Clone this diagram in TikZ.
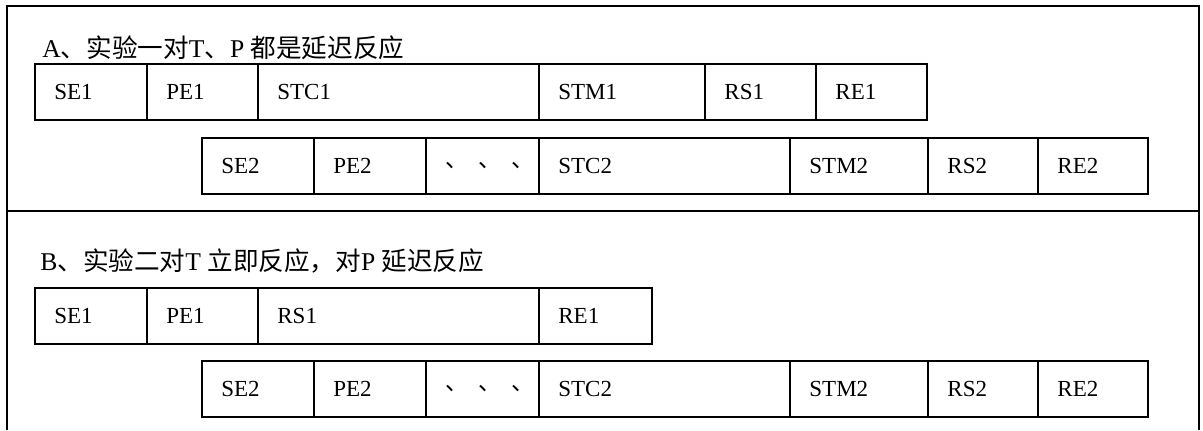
\documentclass[tikz,border=0pt]{standalone}
\usepackage{fontspec}
\setmainfont{Liberation Serif}
\newfontfamily\cjk{Noto Sans CJK SC}
\tikzset{
  cell/.style={draw, line width=0.9pt, anchor=north west, minimum height=28pt, inner sep=0pt},
  lbl/.style={anchor=west, xshift=10pt, inner sep=0pt, font=\fontsize{11.5}{13}\selectfont},
  ttl/.style={anchor=west, inner sep=0pt, font=\fontsize{12.8}{14}\selectfont}
}
\begin{document}
\begin{tikzpicture}[x=0.5pt,y=-0.5pt]
\useasboundingbox (0,0) rectangle (1203,430);
% frame
\coordinate (fbl) at (7,430);
\coordinate (ftl) at (7,6);
\coordinate (ftr) at (1199,6);
\coordinate (fbr) at (1199,430);
\coordinate (ml) at (7,211);
\coordinate (mr) at (1199,211);
\draw [line width=1pt] (fbl) -- (ftl) -- (ftr) -- (fbr);
\draw [line width=1pt] (ml) -- (mr);
% titles
\node [ttl] (titleA) at (42,48) {A{\cjk 、实验一对}T{\cjk 、}P {\cjk 都是延迟反应}};
\node [ttl] (titleB) at (40,261) {B{\cjk 、实验二对}T {\cjk 立即反应，对}P {\cjk 延迟反应}};
% first rows
\foreach \l/\r/\t/\n in {34/146/SE1/a1-se, 146/257/PE1/a1-pe, 257/538/STC1/a1-stc,
  538/704/STM1/a1-stm, 704/815/RS1/a1-rs, 815/926/RE1/a1-re}
  {\pgfmathsetmacro\w{(\r-\l)*0.5}
   \node [cell, minimum width=\w pt, label={[lbl]west:\t}] (\n) at (\l,63) {};}
\foreach \l/\r/\t/\n in {34/146/SE1/b1-se, 146/257/PE1/b1-pe, 257/538/RS1/b1-rs,
  538/651/RE1/b1-re}
  {\pgfmathsetmacro\w{(\r-\l)*0.5}
   \node [cell, minimum width=\w pt, label={[lbl]west:\t}] (\n) at (\l,287) {};}
% second rows, same in A and B
\foreach \row/\top in {a2/137, b2/360}
  \foreach \l/\r/\t/\n in {201/313/SE2/se, 313/425/PE2/pe,
    425/538/{{\cjk 、\hspace{5pt}、\hspace{5pt}、}}/dots, 538/789/STC2/stc,
    789/927/STM2/stm, 927/1037/RS2/rs, 1037/1147/RE2/re}
    {\pgfmathsetmacro\w{(\r-\l)*0.5}
     \node [cell, minimum width=\w pt, label={[lbl]west:\t}] (\row-\n) at (\l,\top) {};}
\end{tikzpicture}
\end{document}
